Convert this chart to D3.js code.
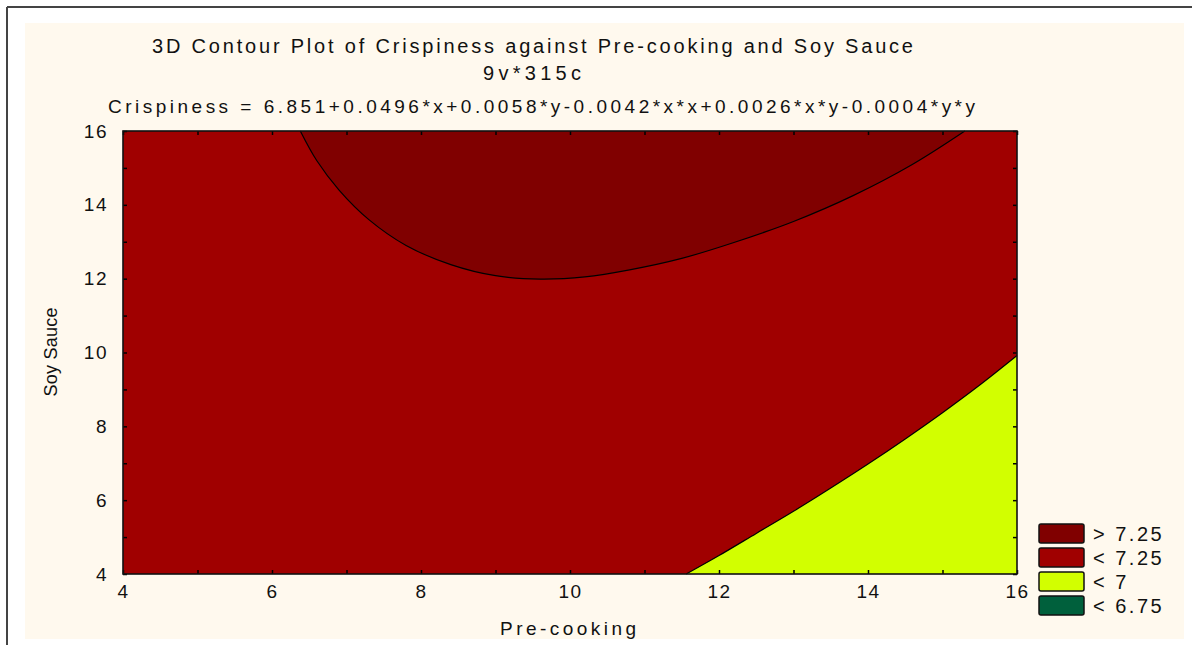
<!DOCTYPE html>
<html>
<head>
<meta charset="utf-8">
<script src="https://cdn.jsdelivr.net/npm/d3@7"></script>
<style>
  body { margin: 0; background: #ffffff; }
  text { font-family: Arial, "Liberation Sans", sans-serif; fill: #111; }
</style>
</head>
<body>
<div id="chart"></div>
<script>
// Data
var xTicks = [4, 5, 6, 7, 8, 9, 10, 11, 12, 13, 14, 15, 16];
var yTicks = [4, 5, 6, 7, 8, 9, 10, 11, 12, 13, 14, 15, 16];

// boundary of the "> 7.25" region (Pre-cooking, Soy Sauce)
var highX = [6.38, 6.6, 6.9, 7.3, 7.8, 8.4, 9.0, 9.6, 10.2, 10.8, 11.5, 12.2, 13.0, 13.8, 14.6, 15.3];
var highY = [16.0, 15.2, 14.4, 13.6, 12.9, 12.38, 12.08, 11.99, 12.05, 12.24, 12.55, 12.98, 13.55, 14.25, 15.1, 16.0];

// boundary of the "< 7" region
var lowX = [11.56, 12.0, 12.5, 13.0, 13.5, 14.0, 14.5, 15.0, 15.5, 16.0];
var lowY = [4.0, 4.5, 5.1, 5.7, 6.33, 6.98, 7.66, 8.37, 9.12, 9.92];

var legendLabels = ["> 7.25", "< 7.25", "< 7", "< 6.75"];
var legendColors = ["#800000", "#a00000", "#d2ff00", "#00603c"];

window.onload = function () {

    var w = 1192;
    var h = 645;

    var svg = d3.select("#chart")
        .append("svg")
        .attr("width", w)
        .attr("height", h);

    // outer frame + cream panel
    svg.append("rect")
        .attr("x", 25).attr("y", 23)
        .attr("width", 1159).attr("height", 616)
        .attr("fill", "#fff9ee");
    svg.append("line")
        .attr("x1", 7).attr("y1", 7).attr("x2", w).attr("y2", 7)
        .attr("stroke", "#444").attr("stroke-width", 2);
    svg.append("line")
        .attr("x1", 7).attr("y1", 7).attr("x2", 7).attr("y2", h)
        .attr("stroke", "#444").attr("stroke-width", 2);

    var x = d3.scaleLinear().domain([4, 16]).range([123, 1017]);
    var y = d3.scaleLinear().domain([4, 16]).range([574, 131]);

    var g = svg.append("g");

    // base level (< 7.25)
    g.append("rect")
        .attr("x", x(4)).attr("y", y(16))
        .attr("width", x(16) - x(4)).attr("height", y(4) - y(16))
        .attr("fill", legendColors[1]);

    var line = d3.line()
        .x(d => x(d[0]))
        .y(d => y(d[1]))
        .curve(d3.curveCatmullRom);

    var highPts = highX.map((v, i) => [v, highY[i]]);
    var lowPts = lowX.map((v, i) => [v, lowY[i]]);

    // > 7.25 region
    g.append("path")
        .attr("d", line(highPts) + "Z")
        .attr("fill", legendColors[0]);

    // < 7 region
    g.append("path")
        .attr("d", line(lowPts) + "L" + x(16) + "," + y(4) + "Z")
        .attr("fill", legendColors[2]);

    // contour lines
    [highPts, lowPts].forEach(function (pts) {
        g.append("path")
            .attr("d", line(pts))
            .attr("fill", "none")
            .attr("stroke", "#000")
            .attr("stroke-width", 1.2);
    });

    // axes
    var fmt = d => (d % 2 === 0 ? d : "");

    svg.append("g")
        .attr("transform", "translate(0," + y(4) + ")")
        .call(d3.axisBottom(x).tickValues(xTicks).tickSize(-4).tickSizeOuter(0).tickPadding(11).tickFormat(fmt));
    svg.append("g")
        .attr("transform", "translate(" + x(4) + ",0)")
        .call(d3.axisLeft(y).tickValues(yTicks).tickSize(-4).tickSizeOuter(0).tickPadding(15).tickFormat(fmt));
    svg.append("g")
        .attr("transform", "translate(0," + y(16) + ")")
        .call(d3.axisTop(x).tickValues(xTicks).tickSize(-4).tickSizeOuter(0).tickFormat(""));
    svg.append("g")
        .attr("transform", "translate(" + x(16) + ",0)")
        .call(d3.axisRight(y).tickValues(yTicks).tickSize(-4).tickSizeOuter(0).tickFormat(""));

    svg.selectAll(".domain").remove();
    svg.selectAll(".tick line").attr("stroke", "#000").attr("stroke-width", 1.5);
    svg.selectAll(".tick text")
        .style("font-size", "19px")
        .style("letter-spacing", "1.5px")
        .attr("fill", "#111");

    // plot frame
    svg.append("rect")
        .attr("x", x(4)).attr("y", y(16))
        .attr("width", x(16) - x(4)).attr("height", y(4) - y(16))
        .attr("fill", "none")
        .attr("stroke", "#111")
        .attr("stroke-width", 1.6);

    // titles
    svg.append("text")
        .attr("x", 152).attr("y", 53)
        .attr("textLength", 761).attr("lengthAdjust", "spacing")
        .style("font-size", "20px")
        .text("3D Contour Plot of Crispiness against Pre-cooking and Soy Sauce");
    svg.append("text")
        .attr("x", 483).attr("y", 80)
        .attr("textLength", 98).attr("lengthAdjust", "spacing")
        .style("font-size", "20px")
        .text("9v*315c");
    svg.append("text")
        .attr("x", 108).attr("y", 113)
        .attr("textLength", 867).attr("lengthAdjust", "spacing")
        .style("font-size", "19px")
        .text("Crispiness = 6.851+0.0496*x+0.0058*y-0.0042*x*x+0.0026*x*y-0.0004*y*y");

    // axis titles
    svg.append("text")
        .attr("x", 500).attr("y", 635)
        .attr("textLength", 136).attr("lengthAdjust", "spacing")
        .style("font-size", "19px")
        .text("Pre-cooking");
    svg.append("text")
        .attr("transform", "translate(57,352) rotate(-90)")
        .attr("text-anchor", "middle")
        .attr("textLength", 89).attr("lengthAdjust", "spacing")
        .style("font-size", "18px")
        .text("Soy Sauce");

    // legend
    var leg = svg.append("g");
    legendLabels.forEach(function (lab, i) {
        var yy = 524 + i * 24;
        leg.append("rect")
            .attr("x", 1039).attr("y", yy)
            .attr("width", 45).attr("height", 19)
            .attr("rx", 2)
            .attr("fill", legendColors[i])
            .attr("stroke", "#111")
            .attr("stroke-width", 1.5);
        leg.append("text")
            .attr("x", 1093).attr("y", yy + 17)
            .style("font-size", "20px")
            .style("letter-spacing", "2.5px")
            .text(lab);
    });
};
</script>
</body>
</html>
